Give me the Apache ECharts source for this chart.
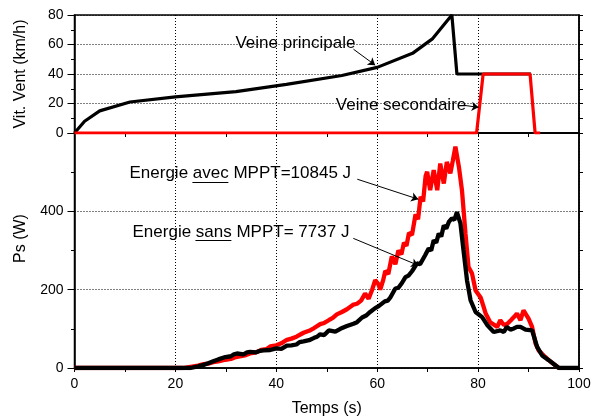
<!DOCTYPE html>
<html><head><meta charset="utf-8">
<script src="https://cdn.jsdelivr.net/npm/echarts@6/dist/echarts.min.js"></script>
<style>html,body{margin:0;padding:0;background:#fff}#c{width:591px;height:418px}</style>
</head><body><div id="c"></div>
<script>
// ---- data (time in s) ----
const windMain = [[0,0],[2,8],[5,15],[11,21],[20,24.5],[32,28],[42,33],[53,39],[60,44.5],[67,54],[71,64],[74.8,80],[75.8,40],[90.5,40]];
const windSecondary = [[0,0],[79.7,0],[81,40],[90.3,40],[91.3,0],[92.3,0]];
const powerWith = [[0,0],[21.5,0],[23,3],[24.5,6],[25.6,10],[26.5,11],[27.5,15],[28.5,17],[29.9,21],[31,23],[32,28],[33,30],[34,33],[34.8,37],[36,40],[37,46],[38,48],[38.8,55],[40,58],[41,63],[42.1,72],[43,75],[44,80],[45.4,90],[46.5,95],[47.5,102],[48.7,112],[49.5,115],[50.4,122],[51.2,128],[52,137],[53,143],[54,150],[55.3,162],[56,164],[56.8,172],[57.6,190],[58.3,177],[59,200],[59.6,224],[60.2,215],[60.6,200],[61.2,225],[61.6,248],[62.2,240],[62.9,285],[63.6,265],[64.2,300],[64.8,290],[65.3,320],[65.8,312],[66.3,345],[66.9,340],[67.6,392],[68.1,380],[68.6,437],[69.1,425],[69.6,490],[69.9,501],[70.5,454],[71.2,505],[71.9,454],[72.5,522],[73.2,471],[73.8,526],[74.5,497],[75.0,530],[75.5,565],[76.2,513],[76.8,454],[77.5,343],[78.1,258],[78.8,241],[79.5,198],[80.5,180],[81.1,156],[81.5,139],[82.4,117],[83.8,105],[84.4,122],[85.1,110],[85.8,113],[86.5,122],[87.1,130],[87.7,139],[88.4,122],[89,147],[90,126],[90.7,105],[91.4,62],[92,45],[93,32],[94,20],[95.3,7],[96,0]];
const powerWithout = [[0,0],[23,0],[24.5,4],[25.6,8],[26.5,12],[27.5,17],[28.5,22],[29.9,28],[31,30],[31.6,35],[32.2,37],[33.5,35],[34.2,40],[34.8,41],[36,40],[36.8,44],[37.5,45],[38.8,46],[40,50],[41,49],[42.1,57],[43,58],[44,60],[44.6,66],[45.4,68],[46.5,71],[47.5,77],[48.1,80],[48.7,86],[49.5,84],[50.4,96],[51.7,93],[52.7,100],[54,107],[55.3,113],[56,117],[57,129],[57.8,134],[58.6,143],[59.6,153],[60.3,158],[61.5,170],[62.1,172],[62.6,180],[63.6,203],[64.2,205],[64.9,217],[65.6,232],[66.2,236],[66.9,247],[67.9,267],[68.5,265],[69.5,288],[70.2,305],[70.7,300],[71.2,326],[71.7,320],[72.2,343],[72.7,336],[73.2,364],[73.7,356],[74.2,373],[74.8,382],[75.3,378],[75.8,398],[76.5,369],[77.1,301],[77.8,224],[78.5,173],[79.5,143],[80.8,130],[81.8,110],[83.1,92],[84.4,96],[85.1,92],[85.7,105],[86.4,98],[87.1,101],[87.7,105],[88.4,105],[89.4,98],[90.7,96],[91.7,54],[92.7,32],[94,20],[95.3,7],[96,0],[100,0]];
const windTicks = [0,20,40,60,80];
const powerTicks = [0,200,400];
const timeTicks = [0,20,40,60,80,100];
const labels = {
  main: 'Veine principale',
  secondary: 'Veine secondaire',
  withMppt: 'Energie avec MPPT=10845 J',
  withoutMppt: 'Energie sans MPPT= 7737 J'
};

const FONT = '"Liberation Sans", Arial, sans-serif';
const K = '#000';
const dot = [1,2];

function xAx(grid, showLabels) {
  return {
    type:'value', gridIndex:grid, min:0, max:100, interval:20,
    name: showLabels ? 'Temps (s)' : '', nameLocation:'middle', nameGap:33,
    nameTextStyle:{color:K, fontSize:16, fontFamily:FONT},
    axisLine:{show:true, onZero:false, lineStyle:{color:K, width:1.5}},
    axisTick:{show:true, length:4, lineStyle:{color:K, width:1}},
    minorTick:{show:true, splitNumber:2, length:4, lineStyle:{color:K, width:1}},
    axisLabel:{show:showLabels, color:K, fontSize:14, fontFamily:FONT, margin:9,
      formatter: v => timeTicks.includes(v) ? String(v) : ''},
    splitLine:{show:true, lineStyle:{color:K, width:1, type:dot}},
    minorSplitLine:{show:false}
  };
}
function yAx(grid, max, ticks, name, right) {
  const shifted = grid === 1;
  return {
    type:'value', gridIndex:grid, min:0, max:max, interval:ticks[1]-ticks[0],
    position: right ? 'right' : 'left',
    name: right ? '' : (shifted ? '{s|}{t|' + name + '}' : name),
    nameLocation:'middle', nameGap:46,
    nameTextStyle:{color:K, fontSize:16, fontFamily:FONT,
      rich:{t:{color:K, fontSize:16, fontFamily:FONT}, s:{width:24, fontSize:16}}},
    axisLine:{show:true, onZero:false, lineStyle:{color:K, width:1.5}},
    axisTick:{show:true, length: right ? 4 : 7, lineStyle:{color:K, width:1}},
    minorTick:{show:true, splitNumber:2, length: right ? 4 : 3.5, lineStyle:{color:K, width:1}},
    axisLabel:{show:!right, color:K, fontSize:14, fontFamily:FONT, margin:11,
      formatter: v => ticks.includes(v) ? String(v) : ''},
    splitLine:{show:!right, lineStyle:{color:K, width:1, type:dot}}
  };
}
function arrow(from, to) {
  return [{coord:from}, {coord:to}];
}
function txt(coord, text) {
  return {coord:coord, name:text, value:0};
}
const mpBase = {
  symbol:'circle', symbolSize:1, itemStyle:{color:'rgba(0,0,0,0)'},
  label:{show:true, position:'right', distance:0, color:K, fontSize:17, fontFamily:FONT, formatter:'{b}'},
  emphasis:{disabled:true}, silent:true
};
const mlBase = {
  symbol:['none','arrow'], symbolSize:7, silent:true,
  label:{show:false}, emphasis:{disabled:true},
  lineStyle:{color:K, width:1, type:'solid'}
};

const chart = echarts.init(document.getElementById('c'), null, {renderer:'canvas'});
chart.setOption({
  animation:false,
  backgroundColor:'#fff',
  grid:[
    {left:74.5, right:12, top:15, height:118, show:true, borderColor:K, borderWidth:1.5, backgroundColor:'transparent', outerBoundsMode:'none'},
    {left:74.5, right:12, top:133, height:235, show:true, borderColor:K, borderWidth:1.5, backgroundColor:'transparent', outerBoundsMode:'none'}
  ],
  xAxis:[xAx(0,false), xAx(1,true)],
  yAxis:[
    yAx(0, 80, windTicks, 'Vit. Vent (km/h)', false),
    yAx(0, 80, windTicks, '', true),
    yAx(1, 600, powerTicks, 'Ps (W)', false),
    yAx(1, 600, powerTicks, '', true)
  ],
  series:[
    {type:'line', xAxisIndex:0, yAxisIndex:0, data:windMain, symbol:'none', z:2,
     lineStyle:{color:K, width:3.2}, itemStyle:{color:K},
     markPoint:Object.assign({}, mpBase, {data:[txt([31.8,61], labels.main), txt([51.7,18.8], labels.secondary)]}),
     markLine:Object.assign({}, mlBase, {data:[arrow([55.3,56.8],[59.6,46]), arrow([77.1,18.8],[80.1,17.4])]})
    },
    {type:'line', xAxisIndex:0, yAxisIndex:0, data:windSecondary, symbol:'none', z:3,
     lineStyle:{color:'#ff0000', width:3.2}, itemStyle:{color:'#ff0000'}},
    {type:'line', xAxisIndex:1, yAxisIndex:2, data:powerWith, symbol:'none', z:2,
     lineStyle:{color:'#ff0000', width:4.3}, itemStyle:{color:'#ff0000'}},
    {type:'line', xAxisIndex:1, yAxisIndex:2, data:powerWithout, symbol:'none', z:3,
     lineStyle:{color:K, width:4.3}, itemStyle:{color:K},
     markPoint:Object.assign({}, mpBase, {data:[txt([10.8,497], labels.withMppt), txt([11.4,347], labels.withoutMppt)]}),
     markLine:Object.assign({}, mlBase, {data:[
       arrow([56.05,482],[68.15,431]),
       arrow([55.26,331],[68.15,262]),
       [{coord:[23.37,475], symbol:'none'},{coord:[30.5,475], symbol:'none'}],
       [{coord:[23.97,326], symbol:'none'},{coord:[31.1,326], symbol:'none'}]
     ]})
    }
  ]
});
</script>
</body></html>
